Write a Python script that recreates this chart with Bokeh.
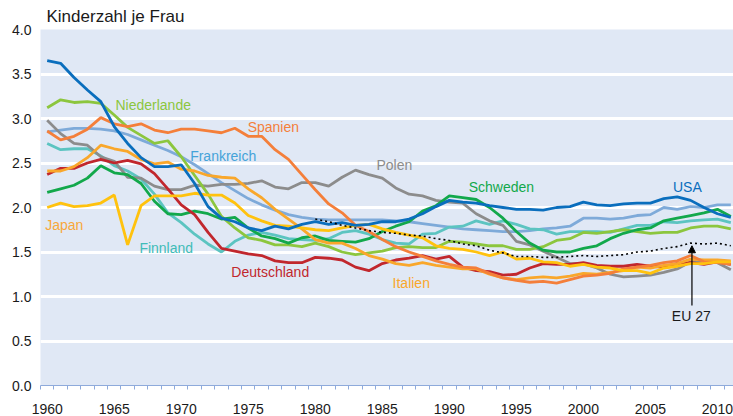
from bokeh.plotting import figure
from bokeh.models import (ColumnDataSource, FixedTicker, CustomJSTickFormatter,
                          PrintfTickFormatter, Arrow, NormalHead, Range1d)
from bokeh.core.properties import value
from bokeh.embed import file_html
from bokeh.resources import INLINE

years = list(range(1960, 2012))

usa = [3.65, 3.62, 3.46, 3.32, 3.19, 2.91, 2.72, 2.56, 2.46, 2.46,
       2.48, 2.27, 2.01, 1.88, 1.84, 1.77, 1.74, 1.79, 1.76, 1.81,
       1.84, 1.81, 1.83, 1.80, 1.81, 1.84, 1.84, 1.87, 1.93, 2.01,
       2.08, 2.06, 2.05, 2.02, 2.00, 1.98, 1.98, 1.97, 2.00, 2.01,
       2.06, 2.03, 2.02, 2.04, 2.05, 2.05, 2.10, 2.12, 2.08, 2.00,
       1.93, 1.89]
frankreich = [2.85, 2.87, 2.89, 2.89, 2.88, 2.86, 2.82, 2.76, 2.70, 2.64,
              2.57, 2.48, 2.38, 2.28, 2.19, 2.10, 2.03, 1.97, 1.92, 1.89,
              1.87, 1.86, 1.86, 1.86, 1.86, 1.86, 1.85, 1.84, 1.82, 1.80,
              1.78, 1.76, 1.75, 1.74, 1.73, 1.73, 1.74, 1.76, 1.77, 1.79,
              1.88, 1.88, 1.87, 1.88, 1.91, 1.92, 2.00, 1.98, 2.01, 2.00,
              2.03, 2.03]
finnland = [2.72, 2.65, 2.66, 2.66, 2.58, 2.47, 2.41, 2.32, 2.15, 1.94,
            1.83, 1.70, 1.59, 1.50, 1.62, 1.69, 1.72, 1.69, 1.65, 1.64,
            1.63, 1.65, 1.72, 1.74, 1.70, 1.64, 1.60, 1.59, 1.70, 1.71,
            1.78, 1.79, 1.85, 1.81, 1.85, 1.81, 1.76, 1.75, 1.70, 1.73,
            1.73, 1.73, 1.72, 1.76, 1.80, 1.80, 1.84, 1.83, 1.85, 1.86,
            1.87, 1.83]
niederlande = [3.12, 3.21, 3.18, 3.19, 3.17, 3.04, 2.90, 2.81, 2.72, 2.75,
               2.57, 2.36, 2.15, 1.90, 1.77, 1.66, 1.63, 1.58, 1.58, 1.56,
               1.60, 1.56, 1.50, 1.47, 1.49, 1.51, 1.55, 1.56, 1.55, 1.55,
               1.62, 1.61, 1.59, 1.57, 1.57, 1.53, 1.53, 1.56, 1.63, 1.65,
               1.72, 1.71, 1.73, 1.75, 1.73, 1.71, 1.72, 1.72, 1.77, 1.79,
               1.79, 1.76]
spanien = [2.86, 2.76, 2.80, 2.88, 3.01, 2.94, 2.91, 2.94, 2.87, 2.84,
           2.88, 2.88, 2.86, 2.84, 2.89, 2.80, 2.80, 2.65, 2.54, 2.37,
           2.20, 2.04, 1.94, 1.80, 1.73, 1.64, 1.56, 1.50, 1.45, 1.40,
           1.36, 1.33, 1.32, 1.26, 1.21, 1.18, 1.16, 1.17, 1.15, 1.19,
           1.23, 1.24, 1.26, 1.31, 1.33, 1.35, 1.38, 1.40, 1.46, 1.39,
           1.38, 1.36]
polen = [2.98, 2.83, 2.72, 2.70, 2.57, 2.52, 2.34, 2.33, 2.24, 2.20,
         2.20, 2.25, 2.24, 2.26, 2.26, 2.27, 2.30, 2.23, 2.21, 2.28,
         2.28, 2.24, 2.34, 2.42, 2.37, 2.33, 2.22, 2.15, 2.13, 2.08,
         2.06, 2.05, 1.93, 1.85, 1.80, 1.62, 1.58, 1.51, 1.44, 1.37,
         1.37, 1.32, 1.25, 1.22, 1.23, 1.24, 1.27, 1.31, 1.39, 1.40,
         1.38, 1.30]
schweden = [2.17, 2.21, 2.25, 2.33, 2.47, 2.39, 2.37, 2.27, 2.07, 1.93,
            1.92, 1.96, 1.93, 1.87, 1.89, 1.77, 1.68, 1.65, 1.60, 1.66,
            1.68, 1.63, 1.62, 1.61, 1.65, 1.73, 1.79, 1.84, 1.96, 2.02,
            2.13, 2.11, 2.09, 2.00, 1.88, 1.73, 1.60, 1.52, 1.50, 1.50,
            1.54, 1.57, 1.65, 1.71, 1.75, 1.77, 1.85, 1.88, 1.91, 1.94,
            1.98, 1.90]
deutschland = [2.37, 2.44, 2.44, 2.50, 2.54, 2.50, 2.53, 2.49, 2.38, 2.21,
               2.03, 1.92, 1.72, 1.54, 1.51, 1.48, 1.46, 1.40, 1.38, 1.38,
               1.44, 1.43, 1.41, 1.33, 1.29, 1.37, 1.41, 1.43, 1.46, 1.42,
               1.45, 1.33, 1.29, 1.28, 1.24, 1.25, 1.32, 1.37, 1.36, 1.36,
               1.38, 1.35, 1.34, 1.34, 1.36, 1.34, 1.33, 1.37, 1.38, 1.36,
               1.39, 1.36]
italien = [2.41, 2.41, 2.46, 2.56, 2.70, 2.66, 2.63, 2.54, 2.49, 2.51,
           2.43, 2.41, 2.36, 2.34, 2.33, 2.21, 2.11, 1.98, 1.87, 1.76,
           1.64, 1.60, 1.60, 1.54, 1.46, 1.42, 1.37, 1.35, 1.38, 1.35,
           1.33, 1.31, 1.31, 1.25, 1.21, 1.19, 1.21, 1.22, 1.21, 1.23,
           1.26, 1.25, 1.27, 1.29, 1.33, 1.32, 1.35, 1.37, 1.42, 1.41,
           1.41, 1.40]
japan = [2.00, 2.05, 2.01, 2.02, 2.05, 2.14, 1.58, 2.02, 2.13, 2.13,
         2.13, 2.16, 2.14, 2.14, 2.05, 1.91, 1.85, 1.80, 1.79, 1.77,
         1.75, 1.74, 1.77, 1.80, 1.81, 1.76, 1.72, 1.69, 1.66, 1.57,
         1.54, 1.53, 1.50, 1.46, 1.50, 1.42, 1.43, 1.39, 1.38, 1.34,
         1.36, 1.33, 1.32, 1.29, 1.29, 1.26, 1.32, 1.34, 1.37, 1.37,
         1.39, 1.39]
eu_years = list(range(1980, 2012))
eu27 = [1.87, 1.84, 1.80, 1.77, 1.74, 1.72, 1.71, 1.69, 1.68, 1.65,
        1.63, 1.59, 1.57, 1.52, 1.49, 1.45, 1.45, 1.44, 1.44, 1.45,
        1.46, 1.45, 1.46, 1.47, 1.50, 1.51, 1.54, 1.56, 1.60, 1.59,
        1.60, 1.57]

series = [
    ("Frankreich", frankreich, "#7eaad9"),
    ("Finnland", finnland, "#5cc4c1"),
    ("Polen", polen, "#8c8c8c"),
    ("Niederlande", niederlande, "#8cc63e"),
    ("Schweden", schweden, "#12a84b"),
    ("Deutschland", deutschland, "#c1272d"),
    ("Italien", italien, "#f9a72b"),
    ("Spanien", spanien, "#f47f3a"),
    ("Japan", japan, "#ffc20e"),
    ("USA", usa, "#0a6ebd"),
]

label_text = ["Niederlande", "Spanien", "Frankreich", "Polen", "Schweden", "USA",
              "Japan", "Finnland", "Deutschland", "Italien", "EU 27"]
label_x = [1968.41, 1977.37, 1973.63, 1986.40, 1994.38, 2008.26,
           1961.77, 1969.38, 1977.14, 1987.66, 2008.55]
label_y = [3.15, 2.90, 2.58, 2.48, 2.23, 2.23, 1.80, 1.55, 1.27, 1.15, 0.78]
label_color = ["#8cc63e", "#f47f3a", "#45a3d9", "#8c8c8c", "#12a84b", "#0a6ebd",
               "#f8a73a", "#3fbcb8", "#c1272d", "#f9a72b", "#1a1a1a"]

FONT = "Liberation Sans"

p = figure(width=733, height=416, output_backend="svg", toolbar_location=None,
           x_range=Range1d(1960, 2011.7), y_range=Range1d(0, 4.0),
           min_border_left=40, min_border_right=0, min_border_top=29,
           min_border_bottom=29, title="Kinderzahl je Frau")
p.title.text_font = FONT
p.title.text_font_size = "17px"
p.title.text_font_style = "normal"
p.title.text_color = "#1a1a1a"
p.title.standoff = 7
p.title.offset = 6

p.background_fill_color = "#e0e8f5"
p.border_fill_color = "white"
p.outline_line_color = None

# x axis: minor ticks at year boundaries, labels centred on the year
xt = FixedTicker(ticks=[y + 0.5 for y in range(1960, 2011, 5)],
                 minor_ticks=list(range(1960, 2012)))
p.xaxis.ticker = xt
p.xaxis.formatter = CustomJSTickFormatter(code="return Math.floor(tick).toString();")
p.xaxis.axis_line_color = "#8eaadb"
p.xaxis.axis_line_width = 1
p.xaxis.major_tick_line_color = None
p.xaxis.major_tick_out = 0
p.xaxis.major_tick_in = 0
p.xaxis.minor_tick_line_color = "#8eaadb"
p.xaxis.minor_tick_out = 4
p.xaxis.minor_tick_in = 0
p.xaxis.major_label_standoff = 14
p.xaxis.major_label_text_font = FONT
p.xaxis.major_label_text_font_size = "14px"
p.xaxis.major_label_text_color = "#1a1a1a"
p.xgrid.grid_line_color = None

p.yaxis.ticker = FixedTicker(ticks=[i * 0.5 for i in range(9)])
p.yaxis.formatter = PrintfTickFormatter(format="%.1f")
p.yaxis.axis_line_color = None
p.yaxis.major_tick_line_color = None
p.yaxis.minor_tick_line_color = None
p.yaxis.major_tick_out = 0
p.yaxis.major_label_standoff = 9
p.yaxis.major_label_text_font = FONT
p.yaxis.major_label_text_font_size = "14px"
p.yaxis.major_label_text_color = "#1a1a1a"
p.ygrid.ticker = FixedTicker(ticks=[i * 0.5 for i in range(1, 9)])
p.ygrid.grid_line_color = "white"
p.ygrid.grid_line_width = 3

for name, vals, col in series:
    p.line([y + 0.5 for y in years], vals, line_color=col, line_width=2.8)

p.line([y + 0.5 for y in eu_years], eu27, line_color="black", line_width=1.6,
       line_dash="2 3")

src = ColumnDataSource(dict(x=label_x, y=label_y, t=label_text, c=label_color))
p.text(x="x", y="y", text="t", text_color="c", source=src,
       text_font=value(FONT), text_font_size=value("14px"),
       text_align="center", text_baseline="middle")

arrow_x = 2008.6
p.add_layout(Arrow(end=NormalHead(size=7, fill_color="black", line_color="black"),
                   x_start=arrow_x, y_start=0.90, x_end=arrow_x, y_end=1.57,
                   line_color="black", line_width=1.2))

open("out.html", "w").write(file_html(p, INLINE))
